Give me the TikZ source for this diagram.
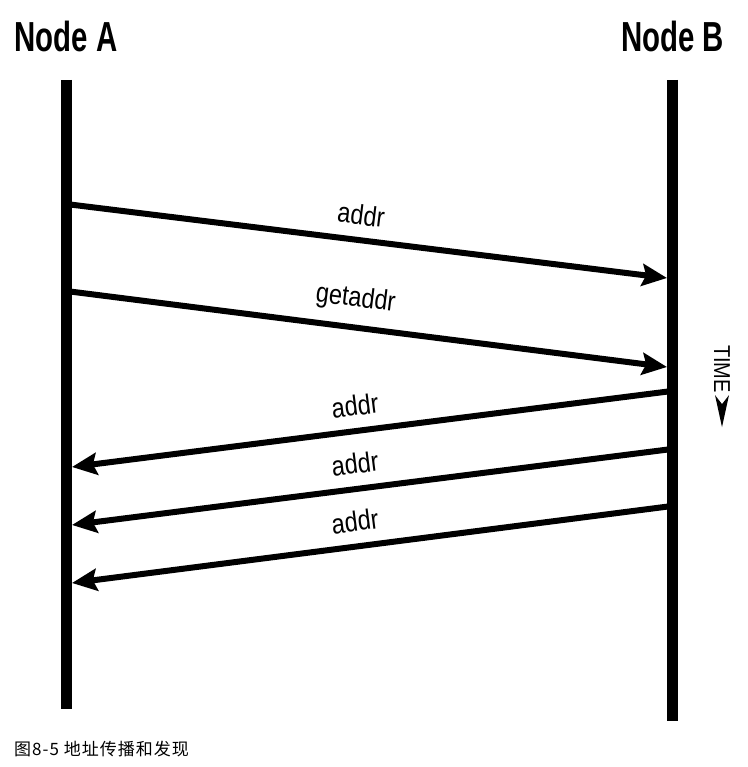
\documentclass[tikz,border=0pt]{standalone}
\usepackage{fontspec}
\usetikzlibrary{arrows.meta,positioning}
\newfontfamily\headfont[FakeStretch=0.70]{Liberation Sans}
\newfontfamily\msgfont[FakeStretch=0.84]{Liberation Sans}
\newfontfamily\timefont[FakeStretch=0.87]{Liberation Sans}
\newfontfamily\cjkfont[LetterSpace=6]{Noto Sans CJK SC}

\begin{document}
\begin{tikzpicture}[
  x=1pt,y=-1pt,
  >={Stealth[length=25pt,width=22pt,inset=4pt]},
  lifeline/.style={line width=11pt},
  msg/.style={line width=6pt,->},
  head/.style={inner sep=0pt,font=\headfont\bfseries\fontsize{42}{48}\selectfont},
  msglabel/.style={sloped,above=12pt,inner sep=0pt,font=\msgfont\fontsize{28}{32}\selectfont}
]
  \useasboundingbox (0,0) rectangle (747,767);

  % lifelines
  \coordinate (atop) at (66,80);
  \coordinate (abot) at (66,709);
  \coordinate (btop) at (672.5,80);
  \coordinate (bbot) at (672.5,721);
  \draw[lifeline] (atop) -- (abot);
  \draw[lifeline] (btop) -- (bbot);
  \node[head,above=28pt of atop] (nodea) {Node A};
  \node[head,above=28pt of btop] (nodeb) {Node B};

  % message end points
  \coordinate (a1) at (66,204);  \coordinate (b1) at (667,278);
  \coordinate (a2) at (66,291);  \coordinate (b2) at (667,367);
  \coordinate (b3) at (672,391); \coordinate (a3) at (72,467);
  \coordinate (b4) at (672,449); \coordinate (a4) at (72,525);
  \coordinate (b5) at (672,506); \coordinate (a5) at (72,583);

  \draw[msg] (a1) -- node[msglabel,pos=0.486] (m1) {addr} (b1);
  \draw[msg] (a2) -- node[msglabel,pos=0.476] (m2) {getaddr} (b2);
  \draw[msg] (b3) -- node[msglabel,pos=0.523] (m3) {addr} (a3);
  \draw[msg] (b4) -- node[msglabel,pos=0.523] (m4) {addr} (a4);
  \draw[msg] (b5) -- node[msglabel,pos=0.523] (m5) {addr} (a5);

  % time direction
  \node[rotate=-90,inner sep=0pt,font=\timefont\fontsize{23}{26}\selectfont] (time) at (722,369) {TIME};
  \coordinate[below=11pt of time.east] (timehead);
  \fill (timehead) -- ++(-7,-9) -- ++(7,32) -- ++(7,-32) -- cycle;

  \node[anchor=west,inner sep=0pt,font=\cjkfont\fontsize{17}{20}\selectfont] (caption) at (14,749) {图8-5 地址传播和发现};
\end{tikzpicture}
\end{document}
